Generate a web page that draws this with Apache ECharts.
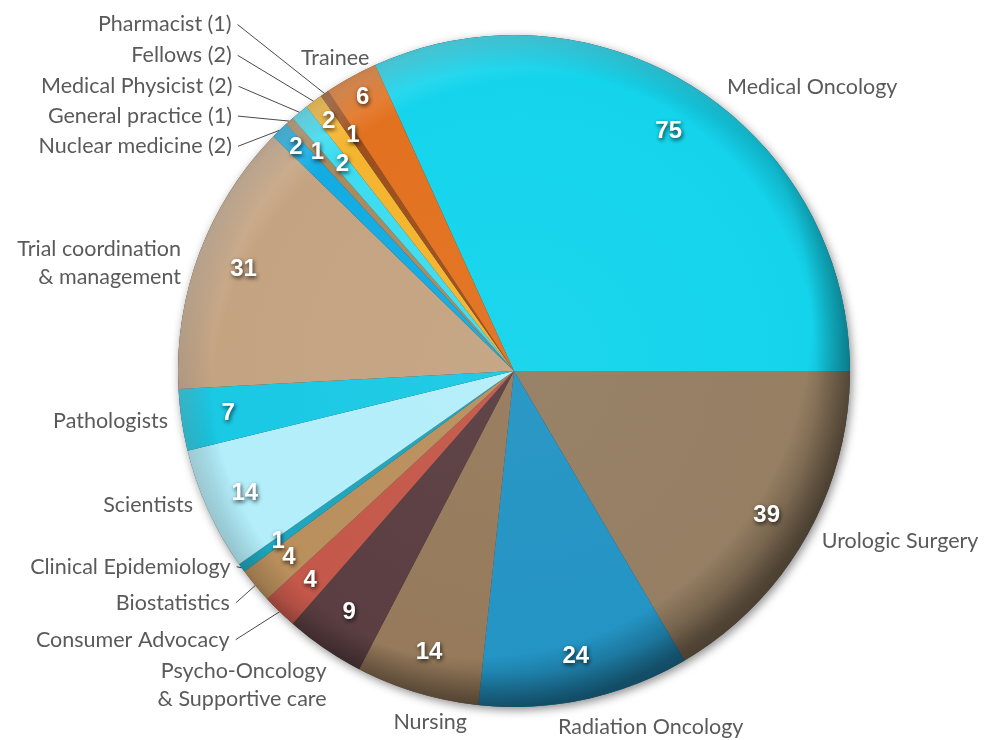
<!DOCTYPE html>
<html>
<head>
<meta charset="utf-8">
<script src="https://cdn.jsdelivr.net/npm/echarts@6/dist/echarts.min.js"></script>
<style>
html,body{margin:0;padding:0;background:#ffffff;}
#chart{width:984px;height:740px;}
</style>
</head>
<body>
<div id="chart"></div>
<script>
// ---- data (clockwise from the top-left start of "Medical Oncology") ----
const categories = [
  'Medical Oncology', 'Urologic Surgery', 'Radiation Oncology', 'Nursing',
  'Psycho-Oncology & Supportive care', 'Consumer Advocacy', 'Biostatistics',
  'Clinical Epidemiology', 'Scientists', 'Pathologists',
  'Trial coordination & management', 'Nuclear medicine', 'General practice',
  'Medical Physicist', 'Fellows', 'Pharmacist', 'Trainee'
];
const values = [75, 39, 24, 14, 9, 4, 4, 1, 14, 7, 31, 2, 1, 2, 2, 1, 6];

// ---- styles ----
const sliceColors = [
  '#14d4ec', '#957e62', '#2394c4', '#967a5b', '#5a3e41', '#c4584a', '#b98f5c',
  '#1ea5bc', '#b3eefa', '#1ac9e4', '#c4a381', '#12ace2', '#a88a5e',
  '#3ddcf0', '#f4b42e', '#9c4f1c', '#e2711f'
];
// labels that show the count in brackets
const withCount = [false,false,false,false,false,false,false,false,false,false,false,true,true,true,true,true,false];
// name-label placement relative to the slice's outer mid point: [dx, dy, align, leaderLine]
const nameLayout = [
  [31, -1, 'left', false],
  [16, 3, 'left', false],
  [-27, 28, 'left', false],
  [50, 29, 'right', false],
  [2, 37, 'right', false],
  [-50, 28, 'right', true],
  [-25.5, 17.4, 'right', true],
  [-11, -1, 'right', true],
  [-15, -5, 'right', false],
  [-13.6, 1, 'right', false],
  [-18.5, 10, 'right', false],
  [-47.6, 16, 'right', true],
  [-57.5, -5, 'right', true],
  [-67, -26, 'right', true],
  [-82, -46, 'right', true],
  [-93, -69, 'right', true],
  [-16, -19, 'center', false]
];
// radial position of value labels (fraction of radius)
const valueRadius = [0.85,0.866,0.87,0.875,0.87,0.87,0.87,0.866,0.88,0.86,0.86,0.93,0.875,0.80,0.925,0.85,0.93];

const CX = 514, CY = 371, R = 336;

function mix(hex, target, f) {
  const n = parseInt(hex.slice(1), 16);
  const r = (n >> 16) & 255, g = (n >> 8) & 255, b = n & 255;
  const m = c => Math.round(c + (target - c) * f);
  return 'rgb(' + m(r) + ',' + m(g) + ',' + m(b) + ')';
}
function sliceFill(c) {
  return {
    type: 'radial', x: CX, y: CY, r: R, global: true,
    colorStops: [
      { offset: 0, color: mix(c, 255, 0.04) },
      { offset: 0.9, color: c },
      { offset: 1, color: mix(c, 0, 0.18) }
    ]
  };
}

const total = values.reduce((a, b) => a + b, 0);
const startAngle = values[0] / total * 360;
const pieData = categories.map((name, i) => ({ name: name, value: values[i] }));
const mainData = categories.map((name, i) => ({
  name: name, value: values[i], itemStyle: { color: sliceFill(sliceColors[i]) }
}));

const common = {
  type: 'pie', center: [CX, CY], startAngle: startAngle, clockwise: true,
  silent: true, animation: false, emphasis: { disabled: true }
};

const chart = echarts.init(document.getElementById('chart'));
chart.setOption({
  backgroundColor: '#ffffff',
  animation: false,
  series: [
    Object.assign({}, common, {
      radius: R,
      label: { show: false }, labelLine: { show: false },
      itemStyle: { color: '#3a3a3a', shadowBlur: 10, shadowColor: 'rgba(0,0,0,0.45)', shadowOffsetX: 2, shadowOffsetY: 3 },
      data: [{ name: 'bg', value: 1 }]
    }),
    Object.assign({}, common, {
      radius: R,
      label: { show: false }, labelLine: { show: false },
      data: mainData
    }),
    Object.assign({}, common, {
      radius: R,
      label: { show: false }, labelLine: { show: false },
      itemStyle: {
        color: { type: 'radial', x: CX - 40, y: CY - 50, r: R + 55, global: true,
          colorStops: [{ offset: 0, color: 'rgba(0,0,0,0)' }, { offset: 0.86, color: 'rgba(0,0,0,0)' }, { offset: 1, color: 'rgba(0,0,0,0.38)' }] }
      },
      data: [{ name: 'shade', value: 1 }]
    }),
    Object.assign({}, common, {
      radius: R,
      label: { show: false }, labelLine: { show: false },
      itemStyle: {
        color: { type: 'radial', x: CX + 40, y: CY + 50, r: R + 55, global: true,
          colorStops: [{ offset: 0, color: 'rgba(255,255,255,0)' }, { offset: 0.88, color: 'rgba(255,255,255,0)' }, { offset: 1, color: 'rgba(255,255,255,0.22)' }] }
      },
      data: [{ name: 'light', value: 1 }]
    }),
    Object.assign({}, common, {
      radius: [246, R],
      itemStyle: { color: 'rgba(0,0,0,0)' },
      label: {
        show: true, position: 'inside', formatter: '{c}', color: '#ffffff',
        fontFamily: '"Liberation Sans", Arial, sans-serif', fontWeight: 'bold', fontSize: 24,
        textShadowColor: 'rgba(0,0,0,0.75)', textShadowBlur: 4, textShadowOffsetX: 1, textShadowOffsetY: 2
      },
      labelLine: { show: false },
      labelLayout: function (p) {
        const lx = p.labelRect.x + p.labelRect.width / 2;
        const ly = p.labelRect.y + p.labelRect.height / 2;
        const a = Math.atan2(ly - CY, lx - CX);
        const rr = R * valueRadius[p.dataIndex];
        return { x: CX + rr * Math.cos(a), y: CY + rr * Math.sin(a), align: 'center', verticalAlign: 'middle' };
      },
      data: pieData
    }),
    Object.assign({}, common, {
      radius: R,
      avoidLabelOverlap: false,
      itemStyle: { color: 'rgba(0,0,0,0)' },
      label: {
        show: true, position: 'outside', color: '#5a5a5a',
        fontFamily: 'Lato, "Noto Sans", sans-serif', fontSize: 21.5, lineHeight: 28,
        formatter: function (p) {
          let t = p.name.replace(' & ', '\n& ');
          if (withCount[p.dataIndex]) t += ' (' + p.value + ')';
          return t;
        }
      },
      labelLine: { show: true, length: 0, length2: 0, lineStyle: { color: '#4a4a4a', width: 1 } },
      labelLayout: function (p) {
        const cfg = nameLayout[p.dataIndex];
        let ex, ey;
        if (p.labelLinePoints && p.labelLinePoints[0]) {
          ex = p.labelLinePoints[0][0]; ey = p.labelLinePoints[0][1];
        } else {
          return {};
        }
        const ax = ex + cfg[0], ay = ey + cfg[1];
        const endX = cfg[2] === 'right' ? ax + 6 : (cfg[2] === 'left' ? ax - 6 : ax);
        const pts = cfg[3] ? [[ex, ey], [endX, ay], [endX, ay]] : [[ex, ey], [ex, ey], [ex, ey]];
        return { x: ax, y: ay, align: cfg[2], verticalAlign: 'middle', labelLinePoints: pts };
      },
      data: pieData
    })
  ]
});
</script>
</body>
</html>
